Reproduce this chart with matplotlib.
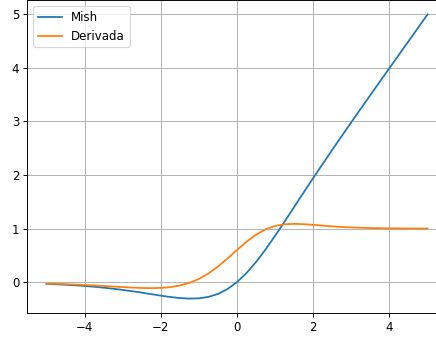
import matplotlib
matplotlib.use("Agg")
import matplotlib.pyplot as plt

# valores, paso de 0.25 entre -5 y 5
x = [-5.0, -4.75, -4.5, -4.25, -4.0, -3.75, -3.5, -3.25, -3.0, -2.75, -2.5,
     -2.25, -2.0, -1.75, -1.5, -1.25, -1.0, -0.75, -0.5, -0.25, 0.0,
     0.25, 0.5, 0.75, 1.0, 1.25, 1.5, 1.75, 2.0, 2.25, 2.5,
     2.75, 3.0, 3.25, 3.5, 3.75, 4.0, 4.25, 4.5, 4.75, 5.0]

mish = [-0.034, -0.041, -0.050, -0.060, -0.073, -0.087, -0.104, -0.124, -0.146, -0.170, -0.197,
        -0.225, -0.253, -0.278, -0.298, -0.308, -0.303, -0.276, -0.221, -0.130, 0.000,
        0.170, 0.375, 0.610, 0.865, 1.132, 1.403, 1.675, 1.944, 2.209, 2.471,
        2.730, 2.987, 3.241, 3.494, 3.746, 3.997, 4.248, 4.499, 4.749, 5.000]

derivada = [-0.027, -0.032, -0.038, -0.046, -0.054, -0.063, -0.073, -0.083, -0.093, -0.103, -0.110,
            -0.113, -0.108, -0.094, -0.064, -0.015, 0.059, 0.161, 0.290, 0.440, 0.600,
            0.754, 0.886, 0.986, 1.049, 1.080, 1.088, 1.082, 1.069, 1.055, 1.041,
            1.030, 1.021, 1.015, 1.010, 1.007, 1.004, 1.003, 1.002, 1.001, 1.001]

# la imagen original parece reducida, por eso dpi 85
dpi = 85
fig = plt.figure(figsize=(436 / dpi, 338 / dpi), dpi=dpi)
# la grafica original esta recortada por arriba y por la derecha
ax = fig.add_axes([27.4 / 436, 25.2 / 338, 419.2 / 436, 312.6 / 338])
ax.plot(x, mish, label="Mish")
ax.plot(x, derivada, label="Derivada")
ax.grid(True)
ax.legend(loc="upper left")

plt.savefig("out.png", dpi=dpi)
